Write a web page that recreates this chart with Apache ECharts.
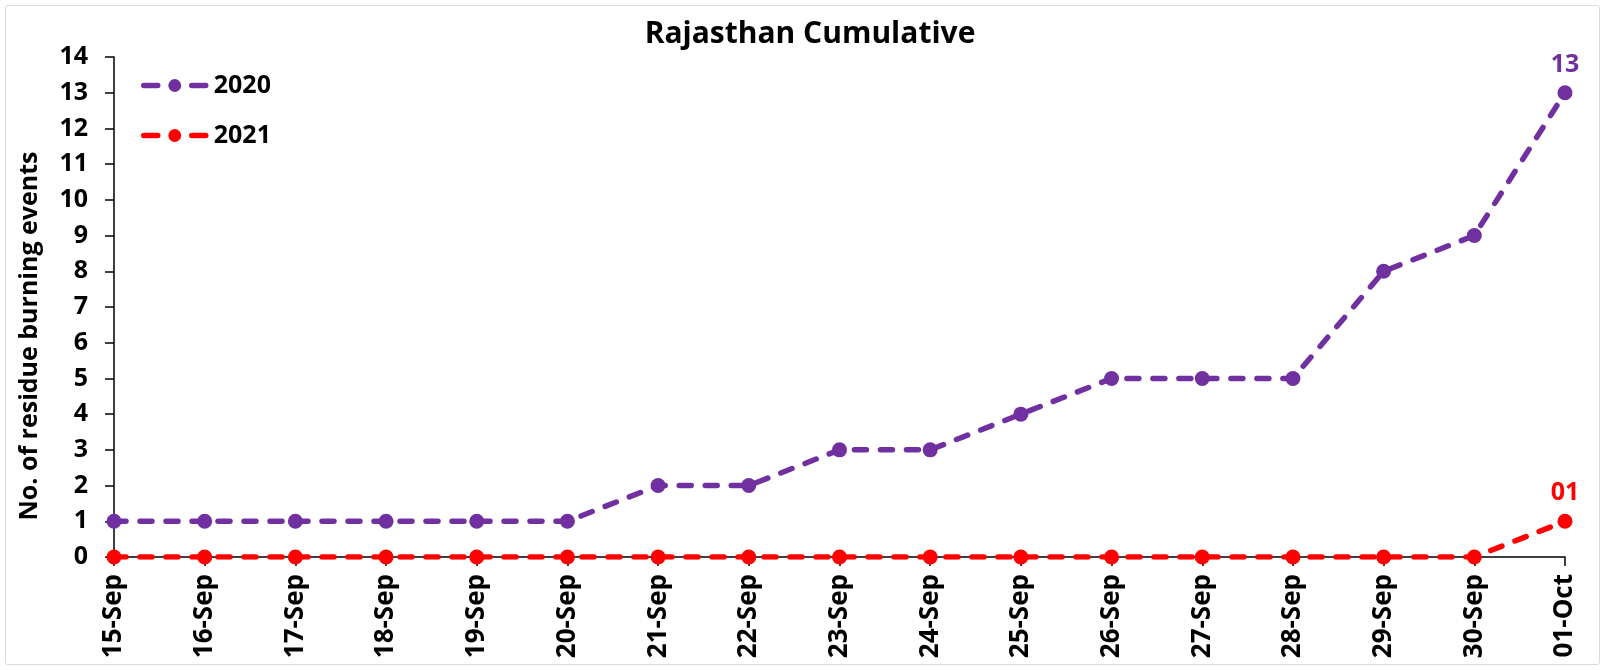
<!DOCTYPE html>
<html>
<head>
<meta charset="utf-8">
<script src="https://cdn.jsdelivr.net/npm/echarts@6/dist/echarts.min.js"></script>
<style>
    html, body { margin: 0; padding: 0; background: #fff; }
    #frame { position: absolute; left: 5px; top: 5px; width: 1593px; height: 658px; border: 1px solid #d9d9d9; border-radius: 3px; }
    #mychart { width: 1605px; height: 670px; }
</style>
</head>
<body>
<div id="frame"></div>
<div id="mychart"></div>
<script>
    var days = ['15-Sep', '16-Sep', '17-Sep', '18-Sep', '19-Sep', '20-Sep', '21-Sep', '22-Sep', '23-Sep',
        '24-Sep', '25-Sep', '26-Sep', '27-Sep', '28-Sep', '29-Sep', '30-Sep', '01-Oct']
    var y2020 = [1, 1, 1, 1, 1, 1, 2, 2, 3, 3, 4, 5, 5, 5, 8, 9, 13]
    var y2021 = [0, 0, 0, 0, 0, 0, 0, 0, 0, 0, 0, 0, 0, 0, 0, 0, 1]
    var names = ['2020', '2021']
    var colors = ['#7030A0', '#FF0000']

    var font = '"Open Sans", sans-serif'
    var myChart = echarts.init(document.getElementById('mychart'))

    function dashed(color) {
        return { width: 5.5, type: [12, 14], cap: 'round', color: color }
    }

    function makeSeries(name, data, color) {
        return {
            name: name,
            type: 'line',
            data: data,
            color: color,
            symbol: 'circle',
            symbolSize: 15,
            lineStyle: dashed(color),
            itemStyle: { color: color },
            label: {
                show: true,
                position: 'top',
                distance: 8,
                color: color,
                fontFamily: font,
                fontWeight: 'bold',
                fontSize: 25,
                formatter: function (p) {
                    if (p.dataIndex !== data.length - 1) return ''
                    return String(p.value).padStart(2, '0')
                }
            },
            z: name === '2021' ? 3 : 2
        }
    }

    // legend icon: one dash each side of the marker
    var legendLine = { width: 5.5, type: [14, 34], cap: 'round' }

    var option = {
        animation: false,
        title: {
            text: 'Rajasthan Cumulative',
            left: 805,
            top: 14,
            textAlign: 'center',
            textStyle: { fontFamily: font, fontWeight: 'bold', fontSize: 30, color: '#000' }
        },
        legend: {
            data: [
                { name: names[0], lineStyle: legendLine, itemStyle: { color: colors[0] } },
                { name: names[1], lineStyle: legendLine, itemStyle: { color: colors[1] } }
            ],
            orient: 'vertical',
            left: 136,
            top: 68,
            itemWidth: 62,
            itemHeight: 16,
            itemGap: 25,
            textStyle: { fontFamily: font, fontWeight: 'bold', fontSize: 25, color: '#000', padding: [0, 0, 0, 3] }
        },
        graphic: [{
            type: 'text',
            x: 30,
            y: 336,
            rotation: Math.PI / 2,
            style: {
                text: 'No. of residue burning events',
                fontFamily: font,
                fontWeight: 'bold',
                fontSize: 25,
                fill: '#000',
                textAlign: 'center',
                textVerticalAlign: 'middle'
            }
        }],
        grid: {
            left: 114,
            right: 40,
            top: 57,
            bottom: 113
        },
        xAxis: {
            type: 'category',
            boundaryGap: false,
            data: days,
            axisLine: { lineStyle: { color: '#000', width: 1.5 } },
            axisTick: { show: true, alignWithLabel: true, length: 9, lineStyle: { color: '#000', width: 1.5 } },
            axisLabel: {
                rotate: 90,
                margin: 17,
                color: '#000',
                fontFamily: font,
                fontWeight: 'bold',
                fontSize: 26,
                interval: 0
            }
        },
        yAxis: {
            type: 'value',
            min: 0,
            max: 14,
            interval: 1,
            axisLine: { show: true, lineStyle: { color: '#000', width: 1.5 } },
            axisTick: { show: true, length: 9, lineStyle: { color: '#000', width: 1.5 } },
            splitLine: { show: false },
            axisLabel: {
                margin: 26,
                color: '#000',
                fontFamily: font,
                fontWeight: 'bold',
                fontSize: 25
            }
        },
        series: [
            makeSeries(names[0], y2020, colors[0]),
            makeSeries(names[1], y2021, colors[1])
        ]
    }
    myChart.setOption(option)
</script>
</body>
</html>
